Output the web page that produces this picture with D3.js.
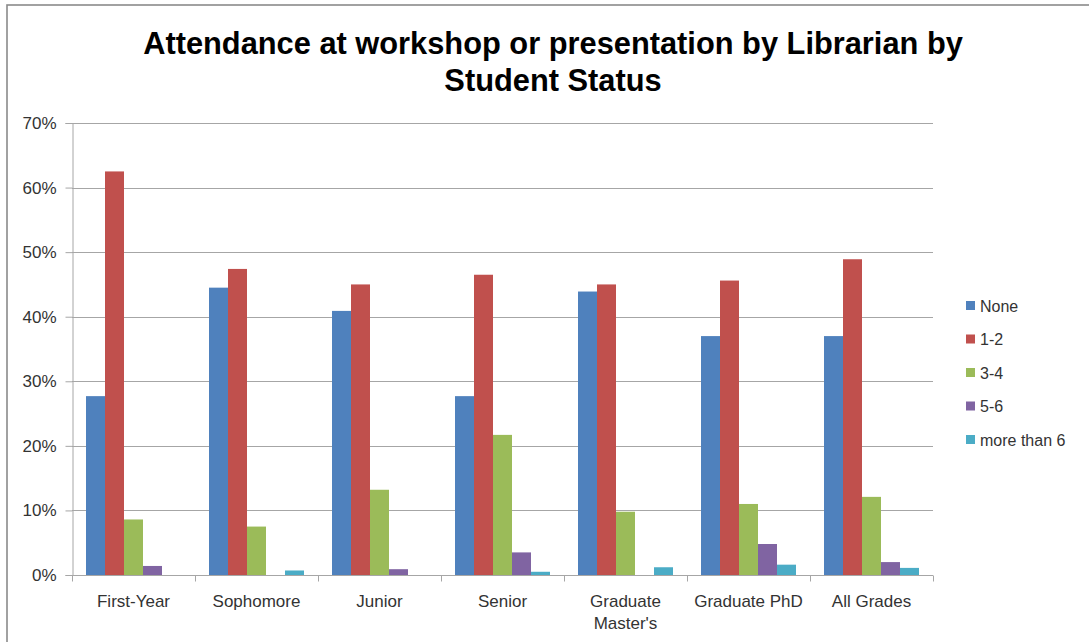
<!DOCTYPE html>
<html>
<head>
<meta charset="utf-8">
<script src="https://cdn.jsdelivr.net/npm/d3@7"></script>
<style>
  html, body { margin: 0; padding: 0; background: #fff; }
  svg { display: block; }
</style>
</head>
<body>
<svg id="chart" width="1089" height="642"></svg>
<script>
const categories = ["First-Year", "Sophomore", "Junior", "Senior", "Graduate Master's", "Graduate PhD", "All Grades"];
const seriesNames = ["None", "1-2", "3-4", "5-6", "more than 6"];
const noneVals     = [27.7, 44.5, 40.9, 27.7, 43.9, 37.0, 37.0];
const oneTwoVals   = [62.5, 47.4, 45.0, 46.5, 45.0, 45.6, 48.9];
const threeFourVals= [8.6, 7.5, 13.2, 21.7, 9.8, 11.0, 12.1];
const fiveSixVals  = [1.4, 0, 0.9, 3.5, 0, 4.8, 2.0];
const moreSixVals  = [0, 0.7, 0, 0.5, 1.2, 1.6, 1.1];
const yTicks = [0, 10, 20, 30, 40, 50, 60, 70];
const colors = ["#4F81BD", "#C0504D", "#9BBB59", "#8064A2", "#4BACC6"];
const titleLines = ["Attendance at workshop or presentation by Librarian by", "Student Status"];

const seriesValues = [noneVals, oneTwoVals, threeFourVals, fiveSixVals, moreSixVals];
const svg = d3.select("#chart");
const font = "'Liberation Sans', Arial, sans-serif";

// frame
svg.append("rect").attr("x", 7).attr("y", 5).attr("width", 1100).attr("height", 700)
  .attr("fill", "#fff").attr("stroke", "#8a8a8a").attr("stroke-width", 1.6);

const m = {left: 72, right: 933, top: 123, bottom: 575};
const x0 = d3.scaleBand().domain(categories).range([m.left, m.right]).paddingInner(0).paddingOuter(0);
const bw = x0.bandwidth();
const gap = bw * 28 / 123 / 2;
const x1 = d3.scaleBand().domain(seriesNames).range([gap, bw - gap]).padding(0);
const y = d3.scaleLinear().domain([0, 70]).range([m.bottom, m.top]);

// gridlines
svg.append("g").selectAll("line").data(yTicks.filter(d => d > 0)).join("line")
  .attr("x1", m.left).attr("x2", m.right)
  .attr("y1", d => Math.round(y(d)) + 0.5).attr("y2", d => Math.round(y(d)) + 0.5)
  .attr("stroke", "#a6a6a6").attr("stroke-width", 1);

// bars
const data = [];
categories.forEach((c, i) => seriesNames.forEach((s, j) => data.push({c, s, v: seriesValues[j][i], j})));
svg.append("g").selectAll("rect").data(data).join("rect")
  .attr("x", d => x0(d.c) + x1(d.s))
  .attr("width", x1.bandwidth())
  .attr("y", d => y(d.v))
  .attr("height", d => y(0) - y(d.v))
  .attr("fill", d => colors[d.j]);

// y axis
const yAxis = d3.axisLeft(y).tickValues(yTicks).tickFormat(d => d + "%").tickSize(7).tickPadding(9);
const gy = svg.append("g").attr("transform", `translate(${m.left + 0.5},0)`).call(yAxis);
gy.select(".domain").attr("stroke", "#a6a6a6");
gy.selectAll(".tick line").attr("stroke", "#a6a6a6");
gy.selectAll(".tick text").attr("font-family", font).attr("font-size", 17).attr("fill", "#333");

// x axis
const gx = svg.append("g").attr("transform", `translate(0,${m.bottom + 0.5})`);
gx.append("line").attr("x1", m.left).attr("x2", m.right).attr("stroke", "#a6a6a6");
const bounds = categories.map(c => x0(c)).concat([m.right]);
gx.selectAll("line.tk").data(bounds).join("line").attr("class", "tk")
  .attr("x1", d => Math.round(d) + 0.5).attr("x2", d => Math.round(d) + 0.5)
  .attr("y1", 0).attr("y2", 6).attr("stroke", "#a6a6a6");
const lbl = gx.selectAll("text.cat").data(categories).join("text").attr("class", "cat")
  .attr("x", d => x0(d) + bw / 2).attr("y", 31)
  .attr("text-anchor", "middle").attr("font-family", font).attr("font-size", 17).attr("fill", "#333");
lbl.each(function(d) {
  const t = d3.select(this);
  const parts = d === "Graduate Master's" ? ["Graduate", "Master's"] : [d];
  parts.forEach((p, k) => t.append("tspan").attr("x", x0(d) + bw / 2).attr("dy", k === 0 ? 0 : 22).text(p));
});

// title
const title = svg.append("g");
const tl = title.selectAll("text").data(titleLines).join("text")
  .attr("x", 553).attr("y", (d, i) => 54 + i * 37)
  .attr("text-anchor", "middle").attr("font-family", font).attr("font-weight", "bold")
  .attr("font-size", 28).attr("fill", "#000").text(d => d);
const w0 = tl.nodes()[0].getComputedTextLength();
const fs = 28 * 820 / w0;
tl.attr("font-size", fs);

// legend
const lg = svg.append("g");
seriesNames.forEach((s, j) => {
  const yy = 306 + j * 33.5;
  lg.append("rect").attr("x", 966).attr("y", yy - 5).attr("width", 9).attr("height", 9).attr("fill", colors[j]);
  lg.append("text").attr("x", 980).attr("y", yy + 5.5).attr("font-family", font).attr("font-size", 16)
    .attr("fill", "#333").text(s);
});
</script>
</body>
</html>
